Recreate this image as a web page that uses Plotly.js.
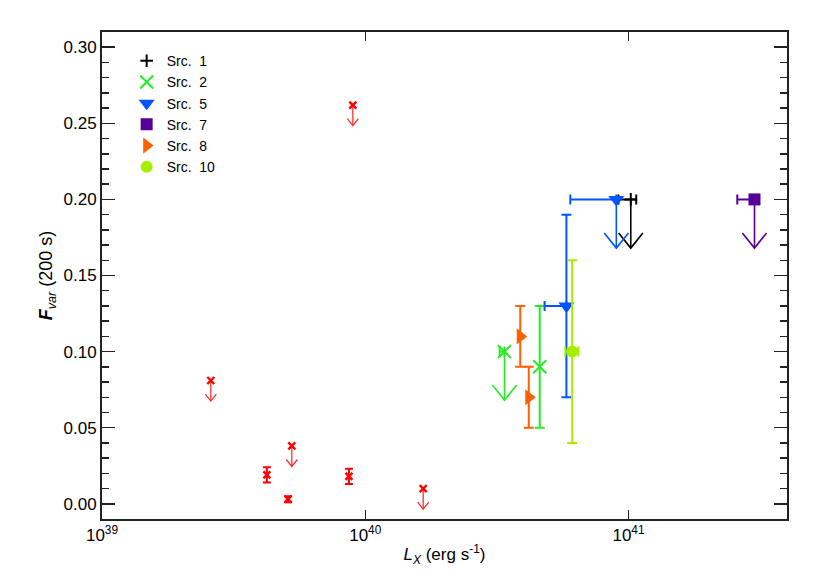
<!DOCTYPE html>
<html>
<head>
<meta charset="utf-8">
<script src="https://cdn.plot.ly/plotly-3.0.1.min.js"></script>
<style>html,body{margin:0;padding:0;background:#fff;}#chart{width:817px;height:584px;}</style>
</head>
<body>
<div id="chart"></div>
<script>
// ---------- data (L_X in erg/s, Fvar at 200 s) ----------
const srcNames = ['Src.\u00a0\u00a01', 'Src.\u00a0\u00a02', 'Src.\u00a0\u00a05', 'Src.\u00a0\u00a07', 'Src.\u00a0\u00a08', 'Src.\u00a0\u00a010'];

const src1_Lx = [1.02e41];           const src1_LxLo = [9.16e40];          const src1_LxHi = [1.07e41];
const src1_F  = [0.20];              const src1_FLo  = [NaN];              const src1_FHi  = [NaN];     const src1_UL = [1];

const src2_Lx = [3.38e40, 4.60e40];  const src2_LxLo = [3.24e40, NaN];     const src2_LxHi = [3.38e40, NaN];
const src2_F  = [0.10, 0.09];        const src2_FLo  = [NaN, 0.05];        const src2_FHi  = [NaN, 0.13]; const src2_UL = [1, 0];

const src5_Lx = [5.81e40, 8.99e40];  const src5_LxLo = [4.80e40, 6.01e40]; const src5_LxHi = [5.81e40, 8.99e40];
const src5_F  = [0.13, 0.20];        const src5_FLo  = [0.07, NaN];        const src5_FHi  = [0.19, NaN]; const src5_UL = [0, 1];

const src7_Lx = [3.01e41];           const src7_LxLo = [2.59e41];          const src7_LxHi = [3.12e41];
const src7_F  = [0.20];              const src7_FLo  = [NaN];              const src7_FHi  = [NaN];     const src7_UL = [1];

const src8_Lx = [3.88e40, 4.18e40];  const src8_LxLo = [NaN, NaN];         const src8_LxHi = [NaN, NaN];
const src8_F  = [0.11, 0.07];        const src8_FLo  = [0.09, 0.05];       const src8_FHi  = [0.13, 0.09]; const src8_UL = [0, 0];

const src10_Lx = [6.11e40];          const src10_LxLo = [5.75e40];         const src10_LxHi = [6.45e40];
const src10_F  = [0.10];             const src10_FLo  = [0.04];            const src10_FHi  = [0.16];   const src10_UL = [0];

const other_Lx = [2.59e39, 4.23e39, 5.09e39, 5.26e39, 8.67e39, 1.66e40, 8.97e39];
const other_F  = [0.081, 0.019, 0.003, 0.038, 0.018, 0.010, 0.262];
const other_FErr = [NaN, 0.005, 0.002, NaN, 0.005, NaN, NaN];
const other_UL = [1, 0, 0, 1, 0, 1, 1];

const xTickVals = [1e39, 1e40, 1e41];
const xTickText = ['10<sup>39</sup>', '10<sup>40</sup>', '10<sup>41</sup>'];
const yTickVals = [0, 0.05, 0.10, 0.15, 0.20, 0.25, 0.30];
const yTickText = ['0.00', '0.05', '0.10', '0.15', '0.20', '0.25', '0.30'];

// ---------- styles ----------
const FONT = 'Liberation Sans, Arial, Helvetica, sans-serif';
const colors = ['#000000', '#22ee22', '#0055ff', '#560099', '#ff6000', '#a6ee00'];
const symbols = ['cross-thin-open', 'x-thin-open', 'triangle-down', 'square', 'triangle-right', 'circle'];
const sizes = [9, 13, 14, 12, 14, 12];

function diff(a, b) { return a.map((v, i) => v - b[i]); }

function srcTrace(k, Lx, LxLo, LxHi, F, FLo, FHi) {
  const color = colors[k], symbol = symbols[k];
  const thin = symbol.indexOf('thin') >= 0;
  return {
    type: 'scatter', mode: 'markers', name: srcNames[k], x: Lx, y: F,
    marker: { symbol: symbol, size: sizes[k], color: color, line: { color: color, width: thin ? 2 : 0 } },
    error_y: { type: 'data', symmetric: false, array: diff(FHi, F), arrayminus: diff(F, FLo),
               color: color, thickness: 2, width: 5 },
    error_x: { type: 'data', symmetric: false, array: diff(LxHi, Lx), arrayminus: diff(Lx, LxLo),
               color: color, thickness: 2, width: 5 },
    hoverinfo: 'x+y+name'
  };
}

// upper-limit arrows built from the data points
function arrowTrace(color, Lx, F, UL, len, headH, headW, width) {
  const xs = [], ys = [];
  for (let i = 0; i < Lx.length; i++) {
    if (!UL[i]) continue;
    const tip = F[i] - len;
    const k = Math.pow(10, headW);
    xs.push(Lx[i], Lx[i], null, Lx[i] / k, Lx[i], Lx[i] * k, null);
    ys.push(F[i], tip, null, tip + headH, tip, tip + headH, null);
  }
  return { type: 'scatter', mode: 'lines', x: xs, y: ys, showlegend: false, hoverinfo: 'skip',
           line: { color: color, width: width } };
}

const BIG = [0.032, 0.010, 0.046, 1.6];
const traces = [];
traces.push(arrowTrace('#ff3030', other_Lx, other_F, other_UL, 0.0135, 0.0046, 0.021, 1.3));
traces.push(arrowTrace(colors[0], src1_Lx, src1_F, src1_UL, ...BIG));
traces.push(arrowTrace(colors[1], src2_Lx, src2_F, src2_UL, ...BIG));
traces.push(arrowTrace(colors[2], src5_Lx, src5_F, src5_UL, ...BIG));
traces.push(arrowTrace(colors[3], src7_Lx, src7_F, src7_UL, ...BIG));

traces.push({
  type: 'scatter', mode: 'markers', x: other_Lx, y: other_F, showlegend: false,
  marker: { symbol: 'x-thin-open', size: 7, color: '#ff0000', line: { color: '#ff0000', width: 2.4 } },
  error_y: { type: 'data', array: other_FErr, color: '#ff0000', thickness: 2, width: 4 }
});

traces.push(srcTrace(0, src1_Lx, src1_LxLo, src1_LxHi, src1_F, src1_FLo, src1_FHi));
traces.push(srcTrace(1, src2_Lx, src2_LxLo, src2_LxHi, src2_F, src2_FLo, src2_FHi));
traces.push(srcTrace(2, src5_Lx, src5_LxLo, src5_LxHi, src5_F, src5_FLo, src5_FHi));
traces.push(srcTrace(3, src7_Lx, src7_LxLo, src7_LxHi, src7_F, src7_FLo, src7_FHi));
traces.push(srcTrace(4, src8_Lx, src8_LxLo, src8_LxHi, src8_F, src8_FLo, src8_FHi));
traces.push(srcTrace(5, src10_Lx, src10_LxLo, src10_LxHi, src10_F, src10_FLo, src10_FHi));

const layout = {
  width: 817, height: 584,
  margin: { l: 102, r: 30, t: 32, b: 65 },
  paper_bgcolor: '#ffffff', plot_bgcolor: '#ffffff',
  font: { family: FONT, size: 15, color: '#000' },
  showlegend: true,
  legend: { x: 0.036, y: 0.973, xanchor: 'left', yanchor: 'top', bgcolor: 'rgba(0,0,0,0)',
            font: { family: FONT, size: 14 }, itemwidth: 30, tracegroupgap: 0 },
  xaxis: {
    type: 'log', range: [39, Math.log10(4e41)],
    tickmode: 'array', tickvals: xTickVals, ticktext: xTickText,
    ticks: 'inside', ticklen: 9, tickwidth: 1.5, tickcolor: '#222',
    showline: true, linecolor: '#222', linewidth: 2, mirror: 'allticks',
    showgrid: false, zeroline: false,
    tickfont: { family: FONT, size: 17 },
    title: { text: '<i>L</i><sub><i>X</i></sub> (erg s<sup>-1</sup>)', font: { family: FONT, size: 17 }, standoff: 4 }
  },
  yaxis: {
    range: [-0.01, 0.31],
    tickmode: 'array', tickvals: yTickVals, ticktext: yTickText,
    ticks: 'inside', ticklen: 13, tickwidth: 1.5, tickcolor: '#222',
    minor: { ticks: 'inside', ticklen: 7, tickwidth: 1.5, tickcolor: '#222', dtick: 0.01, tick0: 0, showgrid: false },
    showline: true, linecolor: '#222', linewidth: 2, mirror: 'allticks',
    showgrid: false, zeroline: false,
    tickfont: { family: FONT, size: 17 },
    title: { text: '<b><i>F</i></b><sub><i>var</i></sub> (200 s)', font: { family: FONT, size: 18 }, standoff: 6 }
  }
};

Plotly.newPlot('chart', traces, layout, { displayModeBar: false, staticPlot: true });
</script>
</body>
</html>
